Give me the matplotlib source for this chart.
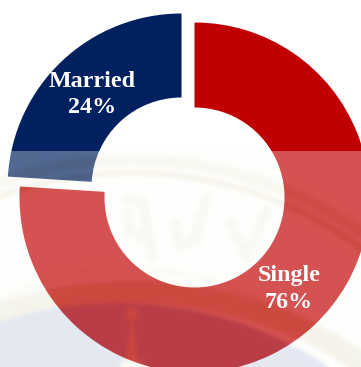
import numpy as np
import matplotlib
matplotlib.use("Agg")
import matplotlib.pyplot as plt

# Marital status shares
categories = ["Single", "Married"]
shares = [76, 24]
slice_colors = ["#C00000", "#002060"]

WIDTH, HEIGHT = 361, 367
WASH_TOP = 151
WASH_ALPHA = 0.33


def disc_mask(dist, radius):
    return np.clip(radius - dist + 0.5, 0, 1)


def band(dist, centre, half_width):
    return np.clip(half_width - np.abs(dist - centre) + 0.5, 0, 1)


def stroke_mask(xx, yy, points, half_width):
    """Mask along a polyline."""
    best = np.full(xx.shape, 1e9)
    for (x0, y0), (x1, y1) in zip(points[:-1], points[1:]):
        dx, dy = x1 - x0, y1 - y0
        t = np.clip(((xx - x0) * dx + (yy - y0) * dy) / (dx * dx + dy * dy), 0, 1)
        best = np.minimum(best, np.hypot(xx - x0 - t * dx, yy - y0 - t * dy))
    return np.clip(half_width - best + 0.5, 0, 1)


def paint(layer, mask, color):
    c = np.array(color, dtype=float)
    return layer * (1 - mask[..., None]) + c * mask[..., None]


def soften(img, sigma):
    """Gaussian blur, run along each image axis with edge padding."""
    r = int(3 * sigma)
    kernel = np.exp(-0.5 * (np.arange(-r, r + 1) / sigma) ** 2)
    kernel /= kernel.sum()
    for axis in (0, 1):
        pad = [(r, r) if a == axis else (0, 0) for a in range(3)]
        padded = np.pad(img, pad, mode="edge")
        img = np.apply_along_axis(lambda s: np.convolve(s, kernel, mode="valid"), axis, padded)
    return img


def seal_wash():
    """Pale university seal laid over the lower part of the chart."""
    yy, xx = np.mgrid[0:HEIGHT, 0:WIDTH] + 0.5
    img = np.full((HEIGHT, WIDTH, 3), (254.0, 254.0, 250.0))
    cream = (216, 209, 170)
    pale = (238, 234, 218)
    sky = (172, 188, 216)
    ink = (238, 234, 218)
    spire = (226, 214, 185)

    upper = np.hypot(xx - 132, yy - 560)
    img = paint(img, band(upper, 400, 6) * 0.45, cream)
    img = paint(img, band(upper, 387, 3) * 0.7, cream)
    img = paint(img, band(upper, 291, 4) * 0.45, pale)

    inner = np.hypot(xx - 132, yy - 700)
    img = paint(img, band(inner, 408, 11) * 0.7, cream)

    img = paint(img, disc_mask(np.hypot(xx - 118, yy - 683), 380), sky)

    # Spire and its finial
    half = np.clip(1.0 + (yy - 320) * 0.12, 0, 8) * (yy > 320)
    img = paint(img, np.clip(half - np.abs(xx - 132) + 0.5, 0, 1) * (yy > 320), spire)
    img = paint(img, disc_mask(np.hypot(xx - 132, yy - 314), 6.5), spire)
    img = paint(img, np.clip(yy - 361, 0, 1) * (np.abs(xx - 132) < 11), (250, 246, 220))

    # Faint lettering inside the seal
    strokes = [
        [(127, 200), (143, 202), (147, 222), (140, 238), (130, 232), (127, 212)],
        [(147, 228), (152, 255)],
        [(175, 225), (180, 245), (193, 242), (207, 198)],
        [(197, 240), (200, 215)],
        [(230, 222), (247, 258), (260, 225), (267, 210)],
    ]
    for points in strokes:
        img = paint(img, stroke_mask(xx, yy, points, 5.0), ink)

    img = soften(img, 2.0)
    rgba = np.dstack([img / 255.0, np.where(yy >= WASH_TOP, WASH_ALPHA, 0.0)])
    return rgba


fig = plt.figure(figsize=(WIDTH / 100, HEIGHT / 100), dpi=100, facecolor="white")
ax = fig.add_axes([0, 0, 1, 1])

wedges, _ = ax.pie(
    shares,
    colors=slice_colors,
    startangle=90,
    counterclock=False,
    center=(194.5, HEIGHT - 197.5),
    radius=175,
    frame=True,
    wedgeprops=dict(width=85, linewidth=0),
)
# Pull the smaller slice away from the ring
wedges[1].set_center((181.5, HEIGHT - 187.5))
wedges[1].set_radius(174)
wedges[1].set_width(84)

ax.imshow(seal_wash(), extent=(0, WIDTH, 0, HEIGHT), origin="upper",
          interpolation="nearest", zorder=5, aspect="equal")

label_positions = {"Single": (289, HEIGHT - 289), "Married": (92, HEIGHT - 94.5)}
for name, value in zip(categories, shares):
    x, y = label_positions[name]
    ax.text(x, y, f"{name}\n{value}%", color="white", ha="center", va="center",
            family="Liberation Serif", weight="bold", fontsize=17.3, linespacing=1.32,
            zorder=6)

ax.set_xlim(0, WIDTH)
ax.set_ylim(0, HEIGHT)
ax.axis("off")
fig.savefig("out.png", dpi=100, facecolor="white")
